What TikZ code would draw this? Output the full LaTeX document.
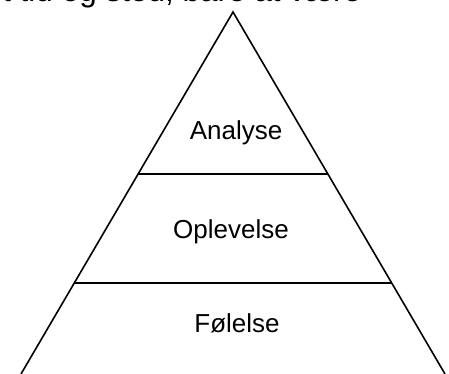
\documentclass[tikz,border=0pt]{standalone}
\usepackage{fontspec}
\setmainfont{Liberation Sans}
\begin{document}
\begin{tikzpicture}[x=1pt, y=-1pt, line width=1.6pt,
    lbl/.style={anchor=base, inner sep=0pt, font=\fontsize{26}{30}\selectfont}]
    \useasboundingbox (0,0) rectangle (449,374);
    \clip (0,0) rectangle (449,374);
    % pyramid
    \coordinate (apex) at (233,12);
    \coordinate (bl) at (21,374);
    \coordinate (br) at (445,374);
    \draw (bl) -- (apex) -- (br);
    \foreach \y/\xl/\xr in {174/138/328, 283/74/392}
      \draw (\xl,\y) -- (\xr,\y);
    % levels
    \foreach \x/\y/\t in {236/140/Analyse, 231/238/Oplevelse, 237/332/Følelse}
      \node[lbl] (lvl\y) at (\x,\y) {\t};
    \node[lbl, anchor=base east, font=\fontsize{31.5}{36}\selectfont] (top) at (362,1.5) {t tid og sted, bare at være};
  \end{tikzpicture}
\end{document}
